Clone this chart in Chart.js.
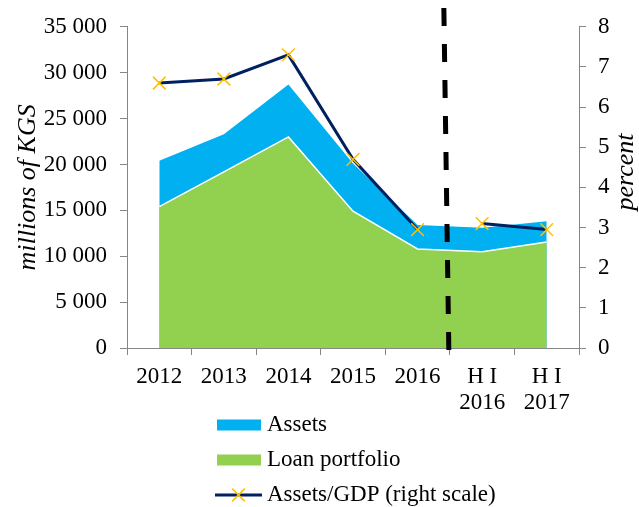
<!DOCTYPE html>
<html>
<head>
<meta charset="utf-8">
<script src="https://cdn.jsdelivr.net/npm/chart.js@4/dist/chart.umd.min.js"></script>
<style>
  html, body { margin: 0; padding: 0; background: #ffffff; }
  #wrap { width: 639px; height: 507px; position: relative; }
</style>
</head>
<body>
<div id="wrap"><canvas id="c"></canvas></div>
<script>
// Categories (years and half-years)
const categories = ['2012', '2013', '2014', '2015', '2016', ['H I', '2016'], ['H I', '2017']];
// Banking sector assets, millions of KGS
const assets = [20400, 23300, 28700, 20100, 13400, 13100, 13800];
// Loan portfolio, millions of KGS
const loanPortfolio = [15400, 19200, 23000, 14900, 10800, 10500, 11550];
// Assets to GDP ratio, percent (right scale)
const assetsToGdp = [6.6, 6.7, 7.3, 4.7, 2.95, 3.1, 2.95];

const SERIF = "'Liberation Serif', 'Times New Roman', serif";
const AXIS_GREY = '#868686';
const NAVY = '#002060';
const MARKER = '#FFC000';
const TEXT_SIZE = 23;
const TITLE_SIZE = 26;

Chart.defaults.font.family = SERIF;
Chart.defaults.font.size = TEXT_SIZE;
Chart.defaults.color = '#000000';

const spaced = v => String(v).replace(/\B(?=(\d{3})+(?!\d))/g, ' ');

function drawCross(ctx, x, y, r, color, w) {
  const d = r * Math.SQRT1_2;
  ctx.save();
  ctx.strokeStyle = color;
  ctx.lineWidth = w;
  ctx.beginPath();
  ctx.moveTo(x - d, y - d); ctx.lineTo(x + d, y + d);
  ctx.moveTo(x - d, y + d); ctx.lineTo(x + d, y - d);
  ctx.stroke();
  ctx.restore();
}

// Dashed divider between annual and half-year data
const dividerPlugin = {
  id: 'divider',
  afterDatasetsDraw(chart) {
    const { ctx, scales: { x }, chartArea } = chart;
    const xb = (x.getPixelForValue(4) + x.getPixelForValue(5)) / 2;
    ctx.save();
    ctx.strokeStyle = '#000000';
    ctx.lineWidth = 5;
    ctx.setLineDash([18, 18]);
    ctx.beginPath();
    ctx.moveTo(xb - 6, 8);
    ctx.lineTo(xb - 1, chartArea.bottom + 4);
    ctx.stroke();
    ctx.restore();
  }
};

// Right axis title, reading bottom to top
const rightTitlePlugin = {
  id: 'rightTitle',
  afterDraw(chart) {
    const { ctx } = chart;
    ctx.save();
    ctx.translate(626, 172);
    ctx.rotate(-Math.PI / 2);
    ctx.font = 'italic ' + TITLE_SIZE + 'px ' + SERIF;
    ctx.fillStyle = '#000000';
    ctx.textAlign = 'center';
    ctx.textBaseline = 'middle';
    ctx.fillText('percent', 0, 0);
    ctx.restore();
  }
};

// Stacked legend below the axis
const legendPlugin = {
  id: 'stackLegend',
  afterDraw(chart) {
    const { ctx } = chart;
    const rows = [425, 460, 495];
    ctx.save();
    ctx.font = TEXT_SIZE + 'px ' + SERIF;
    ctx.textBaseline = 'middle';
    ctx.textAlign = 'left';
    chart.data.datasets.forEach((ds, i) => {
      const y = rows[i];
      if (ds.fill) {
        ctx.fillStyle = ds.backgroundColor;
        ctx.fillRect(217, y - 5.5, 44, 11);
      } else {
        ctx.strokeStyle = ds.borderColor;
        ctx.lineWidth = 3;
        ctx.beginPath();
        ctx.moveTo(215, y); ctx.lineTo(262, y);
        ctx.stroke();
        drawCross(ctx, 238.5, y, ds.pointRadius, ds.pointBorderColor, ds.pointBorderWidth);
      }
      ctx.fillStyle = '#000000';
      ctx.fillText(ds.label, 267, y);
    });
    ctx.restore();
  }
};

new Chart(document.getElementById('c'), {
  type: 'line',
  data: {
    labels: categories,
    datasets: [
      {
        label: 'Assets',
        data: assets,
        yAxisID: 'y',
        order: 2,
        fill: 'origin',
        backgroundColor: '#00B0F0',
        borderColor: '#00B0F0',
        borderWidth: 0,
        pointRadius: 0,
        tension: 0
      },
      {
        label: 'Loan portfolio',
        data: loanPortfolio,
        yAxisID: 'y',
        order: 1,
        fill: 'origin',
        backgroundColor: '#92D050',
        borderColor: '#ffffff',
        borderWidth: 1.5,
        pointRadius: 0,
        tension: 0
      },
      {
        label: 'Assets/GDP (right scale)',
        data: assetsToGdp,
        yAxisID: 'y1',
        order: 0,
        fill: false,
        borderColor: NAVY,
        borderWidth: 3,
        pointStyle: 'crossRot',
        pointRadius: 9,
        pointBorderColor: MARKER,
        pointBackgroundColor: MARKER,
        pointBorderWidth: 1.5,
        clip: false,
        tension: 0,
        segment: {
          borderColor: ctx => ctx.p0DataIndex === 4 ? 'rgba(0,0,0,0)' : NAVY
        }
      }
    ]
  },
  options: {
    responsive: true,
    maintainAspectRatio: false,
    animation: false,
    devicePixelRatio: 1,
    layout: { padding: { top: 26, left: 0, right: 0, bottom: 0 } },
    plugins: {
      legend: { display: false },
      tooltip: { enabled: false }
    },
    scales: {
      x: {
        type: 'category',
        offset: true,
        afterFit: s => { s.height = 159; },
        grid: { offset: true, drawOnChartArea: false, drawTicks: true, tickLength: 7, color: AXIS_GREY },
        border: { color: AXIS_GREY, width: 1 },
        ticks: { maxRotation: 0, autoSkip: false, padding: 9, color: '#000', font: { size: TEXT_SIZE, lineHeight: 26 / TEXT_SIZE } }
      },
      y: {
        position: 'left',
        min: 0,
        max: 35000,
        afterFit: s => { s.width = 127; },
        grid: { drawOnChartArea: false, drawTicks: true, tickLength: 7, color: AXIS_GREY },
        border: { color: AXIS_GREY, width: 1 },
        ticks: { stepSize: 5000, padding: 13, color: '#000', callback: v => spaced(v) },
        title: {
          display: true,
          text: 'millions of KGS',
          color: '#000',
          font: { size: TITLE_SIZE, style: 'italic', lineHeight: 1 },
          padding: { top: 15, bottom: 0 }
        }
      },
      y1: {
        position: 'right',
        min: 0,
        max: 8,
        afterFit: s => { s.width = 60; },
        grid: { drawOnChartArea: false, drawTicks: true, tickLength: 7, color: AXIS_GREY },
        border: { color: AXIS_GREY, width: 1 },
        ticks: { stepSize: 1, padding: 12, color: '#000' }
      }
    }
  },
  plugins: [dividerPlugin, rightTitlePlugin, legendPlugin]
});
</script>
</body>
</html>
